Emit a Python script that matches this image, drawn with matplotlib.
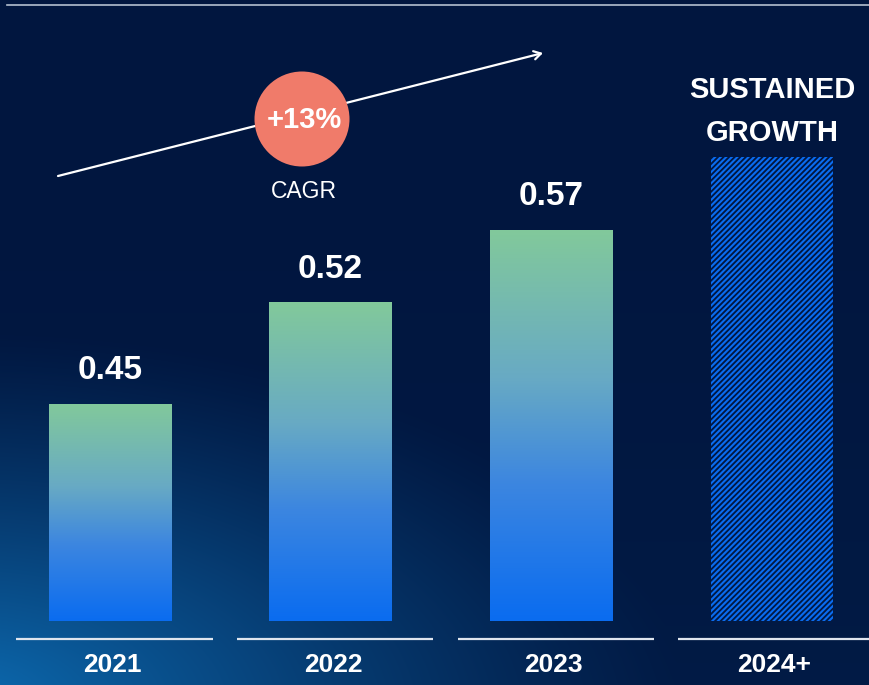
import numpy as np
import matplotlib
matplotlib.use("Agg")
import matplotlib.pyplot as plt
from matplotlib.colors import LinearSegmentedColormap, to_rgb
from matplotlib.patches import Ellipse
from matplotlib.lines import Line2D
from matplotlib.transforms import blended_transform_factory

# data
years = ["2021", "2022", "2023", "2024+"]
values = [0.45, 0.52, 0.57]
outlook_value = 0.62
outlook_label = "SUSTAINED\nGROWTH"
cagr_label = "+13%"
cagr_caption = "CAGR"

plt.rcParams['font.family'] = ['Liberation Sans', 'DejaVu Sans']
plt.rcParams['hatch.linewidth'] = 1.5

W, H = 869, 685
base = 0.30
ytop = base + 621 / 1450

fig = plt.figure(figsize=(W / 100, H / 100), dpi=100)

# navy background with a blue glow from the lower left
bg = fig.add_axes([0, 0, 1, 1])
yy, xx = np.mgrid[0:H, 0:W]
d = np.hypot((xx + 40) / 720, (yy - 700) / 370)
glow = np.clip(1 - d, 0, 1) ** 1.2
glow += 0.06 * (yy / H) ** 2
dark = np.array(to_rgb("#01163f"))
light = np.array(to_rgb("#0c66aa"))
img = dark + (light - dark) * np.clip(glow, 0, 1)[..., None]
bg.imshow(img, aspect='auto', extent=(0, 1, 0, 1), origin='upper')
bg.set_axis_off()

ax = fig.add_axes([0, (H - 621) / H, 1, 621 / H])
ax.set_facecolor('none')
x = np.arange(len(years))

# gradient bars
bar_cmap = LinearSegmentedColormap.from_list(
    "bar", [(0, "#0a6cf0"), (0.35, "#3c86e0"), (0.62, "#68aac4"), (1, "#82c99b")])
bars = ax.bar(x[:3], np.array(values) - base, bottom=base, width=0.557,
              color='none', linewidth=0)
grad = np.linspace(0, 1, 256).reshape(-1, 1)
for b in bars:
    x0, y0 = b.get_x(), b.get_y()
    im = ax.imshow(grad, cmap=bar_cmap, origin='lower', aspect='auto', zorder=2,
                   extent=(x0, x0 + b.get_width(), y0, y0 + b.get_height()))
    im.set_clip_path(b)

# hatched outlook bar
ax.bar(x[3], outlook_value - base, bottom=base, width=0.557, facecolor='none',
       edgecolor='#0a6cf0', hatch='//////', linewidth=0)

ax.set_xlim(-110 / 220.67, (W - 110) / 220.67)
ax.set_ylim(base, ytop)
ax.set_axis_off()

for i, v in enumerate(values):
    ax.annotate(f"{v:.2f}", (i, v), xytext=(0, 23.5), textcoords='offset points',
                ha='center', va='center', color='white', fontsize=24,
                fontweight='bold')
ax.annotate(outlook_label, (3, outlook_value), xytext=(0, 32.5),
            textcoords='offset points', ha='center', va='center', color='white',
            fontsize=21, fontweight='bold', linespacing=1.68)

# year labels with underlines
trans = blended_transform_factory(ax.transData, fig.transFigure)
for i, yr in enumerate(years):
    ax.plot([i - 0.445 + 0.02, i + 0.445 + 0.02], [1 - 639 / H] * 2, transform=trans,
            color='#dfe5ee', lw=1.6, clip_on=False, solid_capstyle='butt')
    ax.text(i + 0.01, 1 - 665 / H, yr, transform=trans, ha='center', va='center',
            color='white', fontsize=19, fontweight='bold')

# top rule
fig.add_artist(Line2D([7 / W, 1], [1 - 5 / H] * 2, transform=fig.transFigure,
                      color='#b4c0d0', lw=1.2))

# growth arrow and CAGR badge
ax.annotate("", xy=(543 / W, 1 - 53 / H), xytext=(58 / W, 1 - 176 / H),
            xycoords='figure fraction', textcoords='figure fraction',
            arrowprops=dict(arrowstyle='->,head_length=0.5,head_width=0.3',
                            color='white', lw=1.6, shrinkA=0, shrinkB=0))
fig.add_artist(Ellipse((302 / W, 1 - 119 / H), 95 / W, 95 / H,
                       transform=fig.transFigure, facecolor='#f07b6a',
                       edgecolor='none', zorder=2))
fig.text(304 / W, 1 - 120 / H, cagr_label, ha='center', va='center', color='white',
         fontsize=21, fontweight='bold', zorder=3)
fig.text(304 / W, 1 - 192 / H, cagr_caption, ha='center', va='center',
         color='white', fontsize=16.5, zorder=3)

fig.savefig("out.png", dpi=100)
